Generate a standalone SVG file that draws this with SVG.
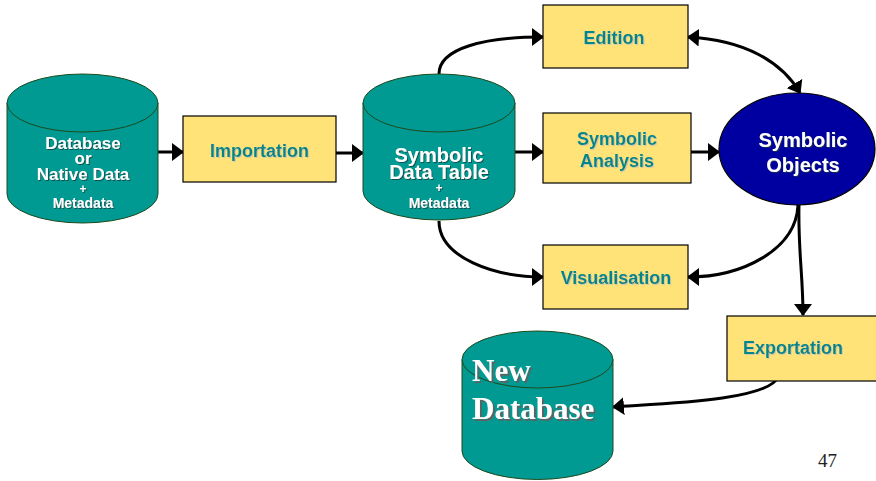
<svg xmlns="http://www.w3.org/2000/svg" width="876" height="481" viewBox="0 0 876 481">
  <style>
    .cyl { fill: #009A92; stroke: #1E4A1E; stroke-width: 1; }
    .box { fill: #FFE278; stroke: #000; stroke-width: 1.2; }
    .boxtxt { font-family: "Liberation Sans", Arial, sans-serif; font-weight: bold; font-size: 18px; fill: #00868A; text-anchor: middle; }
    .cyltxt { font-family: "Liberation Sans", Arial, sans-serif; font-weight: bold; fill: #FFFFFF; text-anchor: middle; }
    .conn { fill: none; stroke: #000; stroke-width: 3; }
  </style>
  <defs>
    <marker id="arrow" viewBox="0 0 12 18" refX="11" refY="9" markerWidth="12" markerHeight="18" markerUnits="userSpaceOnUse" orient="auto-start-reverse">
      <path d="M0,0 L12,9 L0,18 Z" fill="#000"/>
    </marker>
    <filter id="darkShadow" x="-10%" y="-10%" width="120%" height="130%">
      <feDropShadow dx="1" dy="1" stdDeviation="0.4" flood-color="#1B3B3A" flood-opacity="0.8"/>
    </filter>
    <filter id="lightShadow" x="-10%" y="-10%" width="120%" height="130%">
      <feDropShadow dx="1" dy="1" stdDeviation="0.4" flood-color="#C8C8B0" flood-opacity="0.9"/>
    </filter>
    <filter id="greyShadow" x="-10%" y="-10%" width="120%" height="130%">
      <feDropShadow dx="2" dy="2" stdDeviation="0.3" flood-color="#606060" flood-opacity="0.9"/>
    </filter>
  </defs>

  <rect width="876" height="481" fill="#FFFFFF"/>

  <!-- connectors -->
  <g id="connectors">
    <path class="conn" d="M158,152 L183,152" marker-end="url(#arrow)"/>
    <path class="conn" d="M336,153 L363,153" marker-end="url(#arrow)"/>
    <path class="conn" d="M439,74 C439,48 485,37 543,37" marker-end="url(#arrow)"/>
    <path class="conn" d="M688,37 C745,40 782,62 800,93" marker-start="url(#arrow)" marker-end="url(#arrow)"/>
    <path class="conn" d="M515,152 L543,152" marker-end="url(#arrow)"/>
    <path class="conn" d="M691,152 L719,152" marker-end="url(#arrow)"/>
    <path class="conn" d="M439,221 C439,258 495,277 543,277" marker-end="url(#arrow)"/>
    <path class="conn" d="M798,205 C796,250 742,277 688,277" marker-end="url(#arrow)"/>
    <path class="conn" d="M799,205 C798,250 803,275 803,315" marker-end="url(#arrow)"/>
    <path class="conn" d="M778,377 C768,402 650,404 613,407" marker-end="url(#arrow)"/>
  </g>

  <!-- Database or Native Data -->
  <g id="source-db">
    <path class="cyl" d="M7,103 L7,194 A75.5,29 0 0 0 158,194 L158,103 Z"/>
    <ellipse class="cyl" cx="82.5" cy="103" rx="75.5" ry="29"/>
    <g filter="url(#darkShadow)">
      <text class="cyltxt" x="83" y="149" font-size="17">Database</text>
      <text class="cyltxt" x="83" y="164" font-size="17">or</text>
      <text class="cyltxt" x="83" y="180" font-size="17">Native Data</text>
      <text class="cyltxt" x="83" y="193" font-size="12">+</text>
      <text class="cyltxt" x="83" y="208" font-size="14">Metadata</text>
    </g>
  </g>

  <!-- Importation -->
  <g id="importation">
    <rect class="box" x="183" y="116" width="153" height="66"/>
    <text class="boxtxt" x="259.5" y="157" filter="url(#lightShadow)">Importation</text>
  </g>

  <!-- Symbolic Data Table -->
  <g id="symbolic-data-table">
    <path class="cyl" d="M363,103 L363,191 A76,29 0 0 0 515,191 L515,103 Z"/>
    <ellipse class="cyl" cx="439" cy="103" rx="76" ry="29"/>
    <g filter="url(#darkShadow)">
      <text class="cyltxt" x="439" y="162" font-size="20">Symbolic</text>
      <text class="cyltxt" x="439" y="179" font-size="20">Data Table</text>
      <text class="cyltxt" x="439" y="192" font-size="12">+</text>
      <text class="cyltxt" x="439" y="208" font-size="14">Metadata</text>
    </g>
  </g>

  <!-- Edition -->
  <g id="edition">
    <rect class="box" x="543" y="5" width="145" height="63"/>
    <text class="boxtxt" x="614" y="44" filter="url(#lightShadow)">Edition</text>
  </g>

  <!-- Symbolic Analysis -->
  <g id="symbolic-analysis">
    <rect class="box" x="543" y="113" width="148" height="70"/>
    <g filter="url(#lightShadow)">
      <text class="boxtxt" x="617" y="145">Symbolic</text>
      <text class="boxtxt" x="617" y="167">Analysis</text>
    </g>
  </g>

  <!-- Symbolic Objects -->
  <g id="symbolic-objects">
    <ellipse cx="797" cy="149" rx="78" ry="56" fill="#0000A0" stroke="#000" stroke-width="1.2"/>
    <g filter="url(#darkShadow)">
      <text class="cyltxt" x="803" y="147" font-size="20">Symbolic</text>
      <text class="cyltxt" x="803" y="172" font-size="20">Objects</text>
    </g>
  </g>

  <!-- Visualisation -->
  <g id="visualisation">
    <rect class="box" x="543" y="245" width="145" height="64"/>
    <text class="boxtxt" x="616" y="284" filter="url(#lightShadow)">Visualisation</text>
  </g>

  <!-- Exportation -->
  <g id="exportation">
    <rect class="box" x="727" y="316" width="160" height="65"/>
    <text class="boxtxt" x="743" y="354" style="text-anchor:start" filter="url(#lightShadow)">Exportation</text>
  </g>

  <!-- New Database -->
  <g id="new-database">
    <path class="cyl" d="M462,359.5 L462,451 A75.5,28.5 0 0 0 613,451 L613,359.5 Z"/>
    <ellipse class="cyl" cx="537.5" cy="359.5" rx="75.5" ry="28.5"/>
    <g filter="url(#greyShadow)">
      <text x="472" y="381" font-family="'Liberation Serif', 'Times New Roman', serif" font-weight="bold" font-size="31" fill="#FFFFFF">New</text>
      <text x="472" y="419" font-family="'Liberation Serif', 'Times New Roman', serif" font-weight="bold" font-size="31" fill="#FFFFFF">Database</text>
    </g>
  </g>

  <!-- slide number -->
  <text x="818" y="467" font-family="'Liberation Serif', 'Times New Roman', serif" font-size="19" fill="#222">47</text>
</svg>
